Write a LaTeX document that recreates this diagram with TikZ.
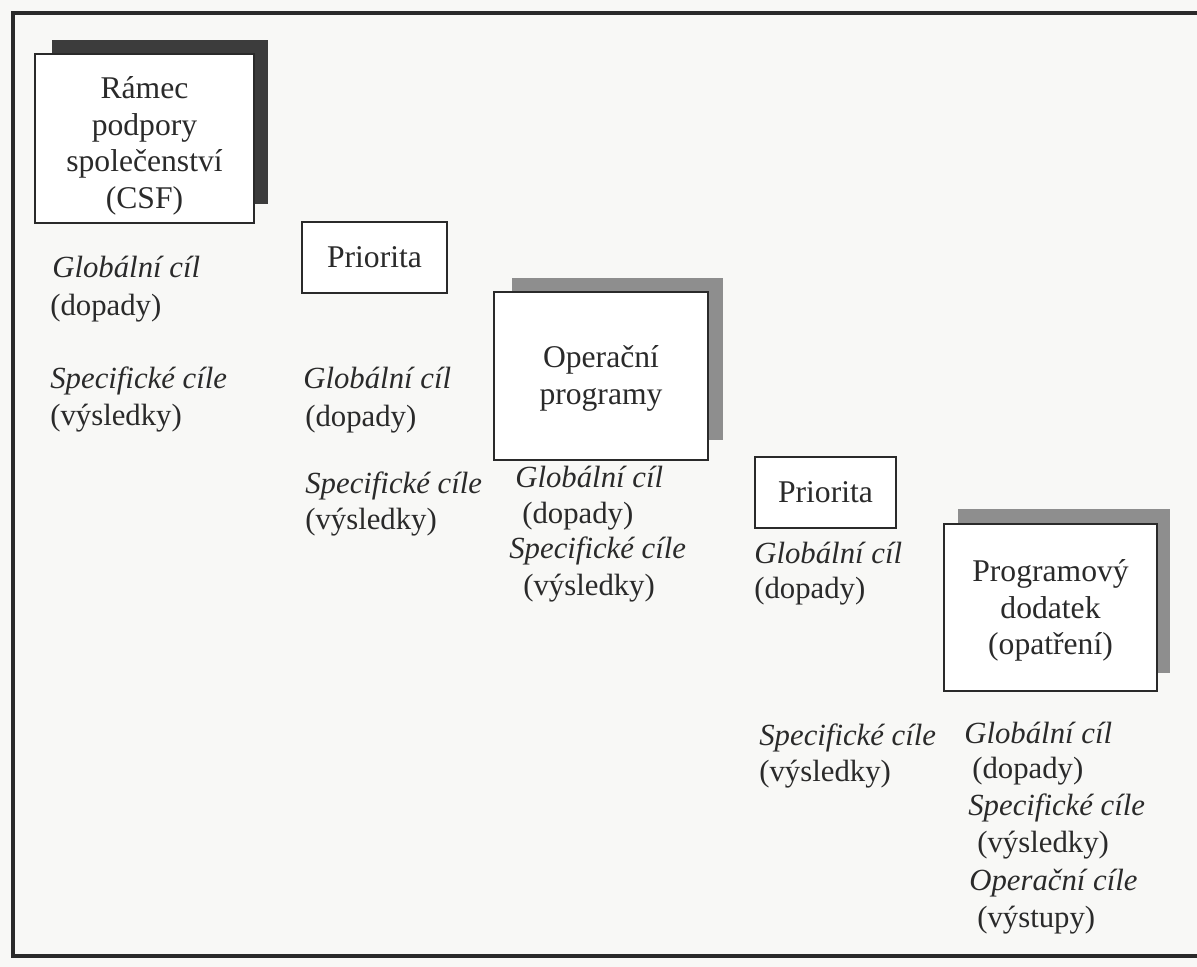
\documentclass[tikz,border=0pt]{standalone}
\usepackage{fontspec}
\setmainfont{Liberation Serif}
\definecolor{ink}{HTML}{2A2A2A}
\definecolor{paper}{HTML}{F8F8F6}
\definecolor{shdark}{HTML}{3C3C3C}
\definecolor{shmid}{HTML}{8E8E8E}
\begin{document}
\begin{tikzpicture}[x=0.02cm,y=-0.02cm,
  txt/.style={inner sep=0pt, anchor=west, text height=0.72em, text depth=0.22em,
    yshift=-0.12cm, font=\fontsize{17.5}{21}\selectfont, text=ink},
  itxt/.style={txt, font=\fontsize{17.5}{21}\selectfont\itshape},
  box/.style={draw=ink, line width=1.2pt, fill=white, inner sep=0pt, align=center,
    font=\fontsize{18}{20.8}\selectfont, text=ink},
  shadowbox/.style={fill=#1, draw=none}
]
\useasboundingbox (0,0) rectangle (1197,967);
\fill[paper] (0,0) rectangle (1197,967);

% outer frame (open on the right)
\draw[ink, line width=2.1pt] (1197,13) -- (13,13) -- (13,956) -- (1197,956);

% shadows
\fill[shadowbox=shdark] (52,40) rectangle (268,204);
\fill[shadowbox=shmid] (512,278) rectangle (723,440);
\fill[shadowbox=shmid] (958,509) rectangle (1170,673);

% boxes
\node[box, minimum width=4.38cm, minimum height=3.38cm] (csf) at (144.5,138.5)
  {\rule{0pt}{21pt}Rámec\\podpory\\společenství\\(CSF)};
\node[box, minimum width=2.90cm, minimum height=1.42cm] (pri1) at (374.5,257.5) {Priorita};
\node[box, minimum width=4.28cm, minimum height=3.36cm] (op) at (601,376)
  {\rule{0pt}{15pt}Operační\\programy};
\node[box, minimum width=2.82cm, minimum height=1.42cm] (pri2) at (825.5,492.5) {Priorita};
\node[box, minimum width=4.26cm, minimum height=3.34cm] (pd) at (1050.5,607.5)
  {\rule{0pt}{16pt}Programový\\dodatek\\(opatření)};

% column 1
\node[itxt] (c1a) at (52,267) {Globální cíl};
\node[txt]  (c1b) at (50,305) {(dopady)};
\node[itxt] (c1c) at (50,378) {Specifické cíle};
\node[txt]  (c1d) at (50,415) {(výsledky)};

% column 2
\node[itxt] (c2a) at (303,378) {Globální cíl};
\node[txt]  (c2b) at (305,416) {(dopady)};
\node[itxt] (c2c) at (305,483) {Specifické cíle};
\node[txt]  (c2d) at (305,519) {(výsledky)};

% column 3
\node[itxt] (c3a) at (515,477) {Globální cíl};
\node[txt]  (c3b) at (522,513) {(dopady)};
\node[itxt] (c3c) at (509,548) {Specifické cíle};
\node[txt]  (c3d) at (523,585) {(výsledky)};

% column 4
\node[itxt] (c4a) at (754,553) {Globální cíl};
\node[txt]  (c4b) at (754,588) {(dopady)};
\node[itxt] (c4c) at (759,735) {Specifické cíle};
\node[txt]  (c4d) at (759,771) {(výsledky)};

% column 5
\node[itxt] (c5a) at (964,733) {Globální cíl};
\node[txt]  (c5b) at (972,768) {(dopady)};
\node[itxt] (c5c) at (968,805) {Specifické cíle};
\node[txt]  (c5d) at (977,842) {(výsledky)};
\node[itxt] (c5e) at (969,880) {Operační cíle};
\node[txt]  (c5f) at (977,917) {(výstupy)};
\end{tikzpicture}
\end{document}
